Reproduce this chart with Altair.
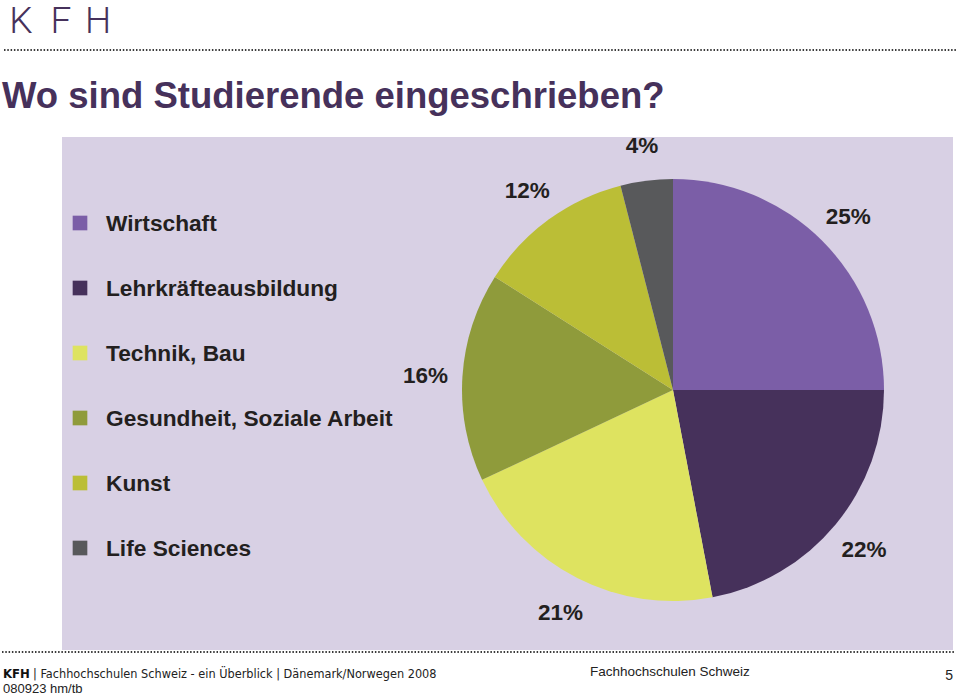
import altair as alt
import pandas as pd

# ---- data ----
categories = ["Wirtschaft", "Lehrkräfteausbildung", "Technik, Bau",
              "Gesundheit, Soziale Arbeit", "Kunst", "Life Sciences"]
shares = [25, 22, 21, 16, 12, 4]
colors = ["#7B5EA7", "#46315B", "#DEE360", "#8F9B3B", "#BBBE36", "#58595B"]

title_text = "Wo sind Studierende eingeschrieben?"
footer_left_bold = "KFH"
footer_left = "| Fachhochschulen Schweiz - ein Überblick | Dänemark/Norwegen 2008"
footer_date = "080923 hm/tb"
footer_mid = "Fachhochschulen Schweiz"
page_no = "5"
logo_letters = ["K", "F", "H"]

df = pd.DataFrame({
    "category": categories,
    "value": shares,
    "order": list(range(len(categories))),
    "label": [f"{v}%" for v in shares],
})
one = pd.DataFrame({"a": [0]})

FONT = "Liberation Sans"
PURPLE_DARK = "#46315B"
TEXT = "#231F20"

color_scale = alt.Scale(domain=categories, range=colors)

# background panel
bg = alt.Chart(one).mark_rect(color="#D8D0E4").encode(
    x=alt.value(62), x2=alt.value(953), y=alt.value(137), y2=alt.value(650)
)

# dotted rules
rule_top = alt.Chart(one).mark_rule(color="#3a3a3a", strokeWidth=1.8, strokeDash=[1.5, 1.8]).encode(
    x=alt.value(4), x2=alt.value(956), y=alt.value(50)
)
rule_bot = alt.Chart(one).mark_rule(color="#3a3a3a", strokeWidth=1.8, strokeDash=[1.5, 1.8]).encode(
    x=alt.value(2), x2=alt.value(955), y=alt.value(652)
)

# logo
logo_layers = []
for ch, xp in zip(logo_letters, [21, 61, 98]):
    logo_layers.append(
        alt.Chart(pd.DataFrame({"ch": [ch]})).mark_text(
            font="Roboto", fontWeight=300, fontSize=37, color=PURPLE_DARK,
            align="center", baseline="alphabetic"
        ).encode(x=alt.value(xp), y=alt.value(33), text="ch:N")
    )

# title
title = alt.Chart(pd.DataFrame({"t": [title_text]})).mark_text(
    font=FONT, fontWeight="bold", fontSize=36.5, color=PURPLE_DARK,
    align="left", baseline="alphabetic"
).encode(x=alt.value(2), y=alt.value(108), text="t:N")

# pie
pie = alt.Chart(df).mark_arc(outerRadius=211).encode(
    theta=alt.Theta("value:Q", stack=True),
    order=alt.Order("order:Q", sort="ascending"),
    color=alt.Color("category:N", scale=color_scale, legend=None),
    x=alt.value(673), y=alt.value(390),
)

pie_labels = alt.Chart(df).mark_text(
    radius=248, font=FONT, fontWeight="bold", fontSize=22.5, color=TEXT,
    align="center", baseline="middle", dy=2
).encode(
    theta=alt.Theta("value:Q", stack=True),
    order=alt.Order("order:Q", sort="ascending"),
    text="label:N",
    x=alt.value(673), y=alt.value(390),
)

# manual legend
ly = alt.Y("category:N", sort=categories, axis=None,
           scale=alt.Scale(type="point", range=[223, 548], padding=0))
leg_sq = alt.Chart(df).mark_square(size=215, opacity=1).encode(
    y=ly, x=alt.value(80),
    color=alt.Color("category:N", scale=color_scale, legend=None),
)
leg_txt = alt.Chart(df).mark_text(
    font=FONT, fontWeight="bold", fontSize=22.7, color=TEXT,
    align="left", baseline="middle", dy=1
).encode(y=ly, x=alt.value(106), text="category:N")

# footer
f1 = alt.Chart(pd.DataFrame({"t": [footer_left_bold]})).mark_text(
    font="DejaVu Sans Condensed", fontWeight="bold", fontSize=13, color="#111",
    align="left", baseline="alphabetic"
).encode(x=alt.value(3), y=alt.value(678), text="t:N")
f2 = alt.Chart(pd.DataFrame({"t": [footer_left]})).mark_text(
    font="DejaVu Sans Condensed", fontSize=12.6, color="#222",
    align="left", baseline="alphabetic"
).encode(x=alt.value(33), y=alt.value(678), text="t:N")
f3 = alt.Chart(pd.DataFrame({"t": [footer_date]})).mark_text(
    font=FONT, fontSize=13, color="#222", align="left", baseline="alphabetic"
).encode(x=alt.value(3), y=alt.value(693), text="t:N")
f4 = alt.Chart(pd.DataFrame({"t": [footer_mid]})).mark_text(
    font=FONT, fontSize=13.5, color="#222", align="left", baseline="alphabetic"
).encode(x=alt.value(590), y=alt.value(676), text="t:N")
f5 = alt.Chart(pd.DataFrame({"t": [page_no]})).mark_text(
    font=FONT, fontSize=14, color="#222", align="right", baseline="alphabetic"
).encode(x=alt.value(953), y=alt.value(680), text="t:N")

chart = alt.layer(
    bg, rule_top, rule_bot, *logo_layers, title, pie, pie_labels,
    leg_sq, leg_txt, f1, f2, f3, f4, f5
).properties(
    width=960, height=695, autosize=alt.AutoSizeParams(type="none"), padding=0,
    background="white"
).configure_view(stroke=None)

chart.save("out.html", embed_options={"renderer": "svg", "actions": False})
